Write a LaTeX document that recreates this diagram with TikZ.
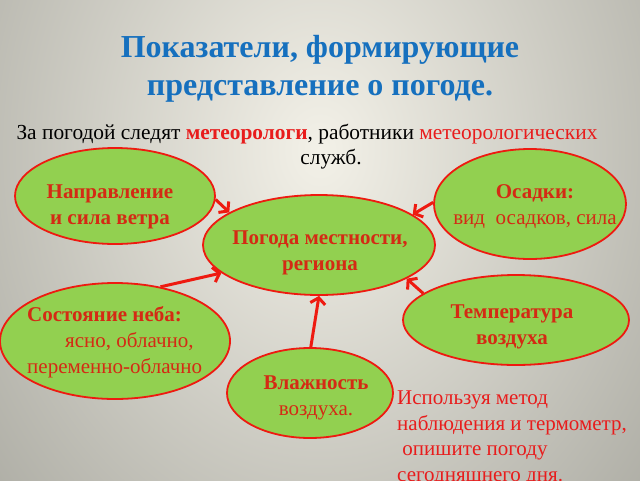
\documentclass[tikz,border=0pt]{standalone}
\usepackage{fontspec}
\setmainfont{Liberation Serif}
\usetikzlibrary{shapes.geometric,arrows.meta}
\definecolor{bglight}{HTML}{F3F1E8}
\definecolor{bgdark}{HTML}{8A8A82}
\definecolor{egreen}{HTML}{92D050}
\definecolor{ered}{HTML}{EE1A10}
\definecolor{ntext}{HTML}{D42A14}
\definecolor{tblue}{HTML}{1670BE}
\definecolor{nred}{HTML}{E81C1C}
\tikzset{
  bubble/.style={ellipse, draw=ered, line width=1.8pt, fill=egreen, inner sep=0pt},
  btext/.style={text=ntext, font=\fontsize{21}{26}\selectfont, align=center, inner sep=0pt},
  link/.style={draw=ered, line width=3pt, -{Straight Barb[length=6pt,width=15pt]}},
}
\begin{document}
\begin{tikzpicture}[x=1pt,y=-1pt]
\useasboundingbox (0,0) rectangle (640,480);
\begin{scope}
\clip (0,0) rectangle (640,480);
\fill[bgdark] (0,0) rectangle (640,480);
\shade[inner color=bglight, outer color=bgdark] (320,150) ellipse [x radius=660, y radius=820];
\end{scope}

\node[text=tblue, font=\fontsize{32}{38}\selectfont\bfseries, align=center, inner sep=0pt] (title) at (320,69)
  {Показатели, формирующие\\представление о погоде.};

\node[font=\fontsize{21.4}{25}\selectfont, align=center, inner sep=0pt] (intro) at (307,147)
  {За погодой следят \textcolor{nred}{\bfseries метеорологи}, работники \textcolor{nred}{метеорологических}\\\hspace*{48pt}служб.};

\node[bubble, minimum width=200pt, minimum height=96pt] (wind) at (115,196) {};
\node[bubble, minimum width=192pt, minimum height=110pt] (rain) at (530,204) {};
\node[bubble, minimum width=232pt, minimum height=100pt] (center) at (319,245) {};
\node[bubble, minimum width=230pt, minimum height=116pt] (sky) at (115,341) {};
\node[bubble, minimum width=226pt, minimum height=90pt] (temp) at (516,320) {};
\node[bubble, minimum width=166pt, minimum height=90pt] (hum) at (310,393) {};

\node[btext] (windt) at (110,207) {\bfseries Направление\\\bfseries и сила ветра};
\node[btext] (raint) at (535,207) {\bfseries Осадки:\\вид\ \ осадков, сила};
\node[btext] (centert) at (320,253) {\bfseries Погода местности,\\\bfseries региона};
\node[btext, align=left, anchor=west] (skyt) at (27,342) {\bfseries Состояние неба:\\\hspace*{38pt}ясно, облачно,\\переменно-облачно};
\node[btext] (tempt) at (512,327) {\bfseries Температура\\\bfseries воздуха};
\node[btext] (humt) at (316,398) {\bfseries Влажность\\воздуха.};

\node[text=nred, font=\fontsize{21}{25.5}\selectfont, align=left, inner sep=0pt, anchor=north west] (note) at (397,391)
  {Используя метод\\наблюдения и термометр,\\\ опишите погоду\\сегодняшнего дня.};

\draw[link] (wind.-2) -- (center.160);
\draw[link] (rain.179) -- (center.18);
\draw[link] (sky.50) -- (center.-164);
\draw[link] (temp.164) -- (center.-21);
\draw[link] (hum.89) -- (center.-90);
\end{tikzpicture}
\end{document}
